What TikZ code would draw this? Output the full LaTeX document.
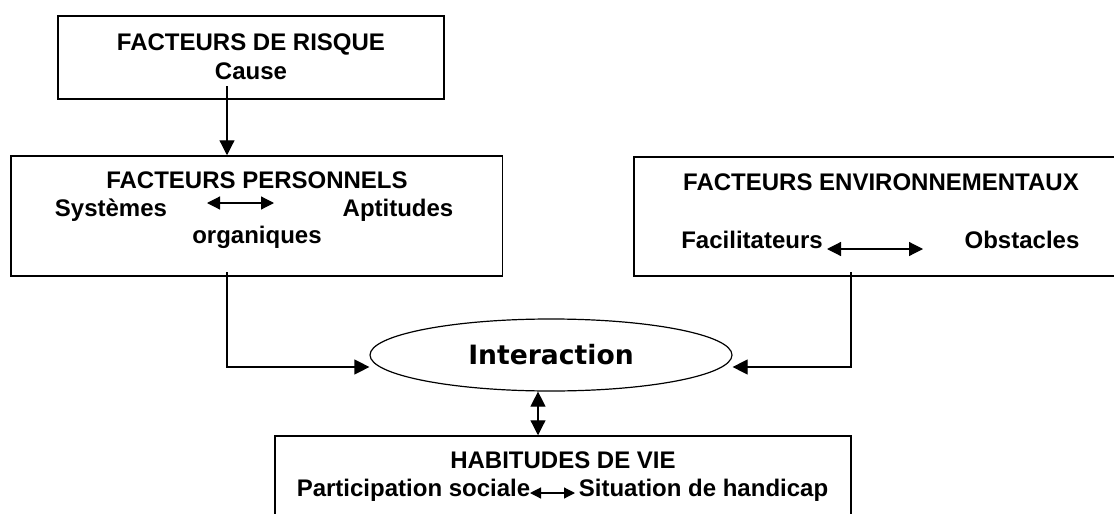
\documentclass[tikz,border=0pt]{standalone}
\usepackage{fontspec}
\setmainfont{Liberation Sans}
\newfontfamily\interfont{DejaVu Sans}
\usetikzlibrary{arrows.meta, shapes.geometric}

\tikzset{
  boite/.style = {draw, line width = 0.75pt, inner sep = 0},
  texte/.style = {font = \bfseries\fontsize{12}{14}\selectfont, inner sep = 0, anchor = base},
  fleche/.style = {line width = 0.6pt, -{Triangle[length = 7.5pt, width = 7.5pt]}},
  fleches/.style = {line width = 0.6pt,
    {Triangle[length = #1, width = #1]}-{Triangle[length = #1, width = #1]}},
  fleches/.default = 7.5pt
}

\begin{document}
\begin{tikzpicture}[x = 0.5pt, y = -0.5pt]
  \useasboundingbox (0, 0) rectangle (1114, 514);

  \node[boite, minimum width = 193pt, minimum height = 41.5pt] (risque) at (251, 57.5) {};
  \node[texte] (risqueTitre) at (251, 50.5) {FACTEURS DE RISQUE};
  \node[texte] (cause) at (251, 79) {Cause};

  \node[boite, minimum width = 245.75pt, minimum height = 60pt] (personnels) at (256.75, 216) {};
  \node[texte] (personnelsTitre) at (257, 188.5) {FACTEURS PERSONNELS};
  \node[texte] (systemes) at (111, 216) {Systèmes};
  \node[texte] (aptitudes) at (398, 216) {Aptitudes};
  \node[texte] (organiques) at (257, 243) {organiques};

  \node[boite, minimum width = 245pt, minimum height = 59.5pt] (environ) at (879, 216.5) {};
  \node[texte] (environTitre) at (881, 190.5) {FACTEURS ENVIRONNEMENTAUX};
  \node[texte] (facilitateurs) at (752, 248.5) {Facilitateurs};
  \node[texte] (obstacles) at (1022, 248.5) {Obstacles};

  \node[draw, ellipse, line width = 0.6pt, minimum width = 181pt, minimum height = 36pt,
    inner sep = 0, font = \interfont\bfseries\fontsize{13.3}{16}\selectfont]
    (interaction) at (551, 355) {Interaction};

  \node[boite, minimum width = 288pt, minimum height = 62pt] (habitudes) at (563, 498) {};
  \node[texte] (habitudesTitre) at (563, 468.5) {HABITUDES DE VIE};
  \node[texte] (participation) at (413.5, 496) {Participation sociale};
  \node[texte] (situation) at (703.5, 496) {Situation de handicap};

  \coordinate (depart) at (227, 86);
  \draw[fleche] (depart) -- (depart |- personnels.north);

  \coordinate (sysG) at (207, 203);
  \coordinate (sysD) at (274, 203);
  \draw[fleches = 6.5pt] (sysG) -- (sysD);

  \coordinate (envG) at (827, 249);
  \coordinate (envD) at (923, 249);
  \draw[fleches = 7pt] (envG) -- (envD);

  \coordinate (habG) at (530, 493);
  \coordinate (habD) at (575, 493);
  \draw[fleches = 5.5pt] (habG) -- (habD);

  \coordinate (gaucheHaut) at (227, 272);
  \coordinate (gaucheBas) at (227, 367);
  \draw[fleche] (gaucheHaut) -- (gaucheBas) -- (interaction.west |- gaucheBas);

  \coordinate (droiteHaut) at (851, 272);
  \coordinate (droiteBas) at (851, 367);
  \draw[fleche] (droiteHaut) -- (droiteBas) -- (interaction.east |- droiteBas);

  \coordinate (lien) at (538, 400);
  \draw[fleches] (interaction.south -| lien) -- (habitudes.north -| lien);
\end{tikzpicture}
\end{document}
